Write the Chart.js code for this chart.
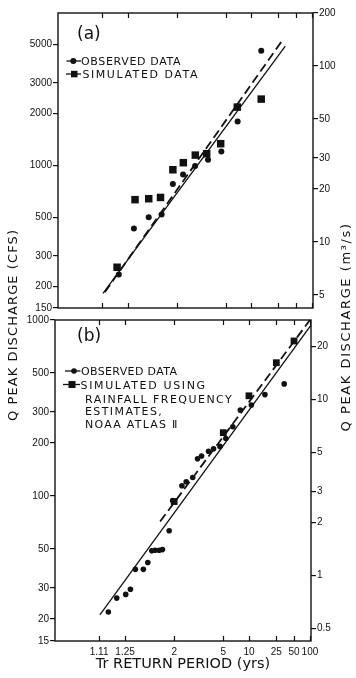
<!DOCTYPE html>
<html>
<head>
<meta charset="utf-8">
<script src="https://cdn.jsdelivr.net/npm/chart.js@4.4.1/dist/chart.umd.min.js"></script>
<style>
  html, body { margin: 0; padding: 0; background: #fff; }
  #wrap { position: relative; width: 356px; height: 678px; overflow: hidden; font-family: "DejaVu Sans", sans-serif; color: #111; }
  canvas { position: absolute; left: 0; }
  #chartA { top: 0; }
  #chartB { top: 306px; }
  .t { position: absolute; line-height: 1; white-space: nowrap; transform: translateY(-50%); font-size: 11px; }
  .panel { font-size: 17px; }
  .vt { position: absolute; line-height: 1; white-space: nowrap; font-size: 13px; transform: translate(-50%, -50%) rotate(-90deg); }
  #icons { position: absolute; left: 0; top: 0; pointer-events: none; }
</style>
</head>
<body>
<div id="wrap">
  <canvas id="chartA" width="356" height="318"></canvas>
  <canvas id="chartB" width="356" height="372"></canvas>

  <!-- panel labels + legends -->
  <div class="t panel" style="left:77px; top:33px;">(a)</div>
  <div class="t" style="left:81px; top:61px; letter-spacing:0.65px;">OBSERVED DATA</div>
  <div class="t" style="left:82.5px; top:74px; letter-spacing:1.55px;">SIMULATED DATA</div>

  <div class="t panel" style="left:77px; top:335px;">(b)</div>
  <div class="t" style="left:81px; top:371px; letter-spacing:0.35px;">OBSERVED DATA</div>
  <div class="t" style="left:80.5px; top:384.5px; letter-spacing:1.65px;">SIMULATED USING</div>
  <div class="t" style="left:85px; top:398.5px; letter-spacing:1.47px;">RAINFALL FREQUENCY</div>
  <div class="t" style="left:85px; top:411px; letter-spacing:1.4px;">ESTIMATES,</div>
  <div class="t" style="left:85px; top:423.5px; letter-spacing:1.25px;">NOAA ATLAS Ⅱ</div>

  <svg id="icons" width="356" height="678">
    <g stroke="#111" stroke-width="1.3" fill="#111">
      <line x1="66.5" y1="61" x2="81" y2="61"/><circle cx="73.3" cy="61" r="3" stroke="none"/>
      <line x1="66" y1="74" x2="81" y2="74"/><rect x="71" y="70.8" width="6.5" height="6.5" stroke="none"/>
      <line x1="65" y1="371" x2="80.5" y2="371"/><circle cx="74" cy="371" r="2.8" stroke="none"/>
      <line x1="63" y1="384.5" x2="80" y2="384.5"/><rect x="68.5" y="381" width="7" height="7" stroke="none"/>
    </g>
  </svg>

  <!-- shared axis titles -->
  <div class="vt" style="left:11.5px; top:324.5px; letter-spacing:1.1px;">Q PEAK DISCHARGE (CFS)</div>
  <div class="vt" style="left:345px; top:327px; letter-spacing:1.6px;">Q PEAK DISCHARGE (m³/s)</div>
</div>

<script>
// --- Data: return period axis ---
const periodTicks = [1.11, 1.25, 2, 5, 10, 25, 50, 100];
const periodLabels = ['1.11', '1.25', '2', '5', '10', '25', '50', '100'];

// --- Data: panel (a) ---
const cfsTicksA = [150, 200, 300, 500, 1000, 2000, 3000, 5000];
const cmsTicksA = [5, 10, 20, 30, 50, 100, 200];
const obsPeriodA = [1.19, 1.30, 1.46, 1.66, 1.90, 2.19, 2.66, 3.39, 4.52, 6.79, 13.7];
const obsFlowA = [234, 432, 502, 521, 780, 887, 991, 1079, 1205, 1796, 4600];
const simPeriodA = [1.18, 1.31, 1.46, 1.64, 1.90, 2.20, 2.67, 3.30, 4.45, 6.73, 13.7];
const simFlowA = [258, 634, 642, 653, 944, 1037, 1147, 1169, 1335, 2173, 2417];
const obsFitPeriodA = [1.114, 32.4];
const obsFitFlowA = [182, 4890];
const simFitPeriodA = [1.121, 27.8];
const simFitFlowA = [185, 5180];

// --- Data: panel (b) ---
const cfsTicksB = [15, 20, 30, 50, 100, 200, 300, 500, 1000];
const cmsTicksB = [0.5, 1, 2, 3, 5, 10, 20];
const obsPeriodB = [1.149, 1.194, 1.255, 1.293, 1.339, 1.426, 1.483, 1.540, 1.592, 1.662, 1.725, 1.872, 1.960,
                    2.236, 2.391, 2.665, 2.902, 3.130, 3.598, 4.003, 4.626, 5.316, 6.349, 7.788, 10.76, 16.67, 33.7];
const obsFlowB = [21.9, 26.3, 27.6, 29.5, 38.3, 38.3, 41.9, 48.8, 49.2, 49.2, 49.6, 63.5, 94.3,
                  114.3, 120.4, 127.5, 162.7, 168.7, 179.4, 185.7, 191.3, 212.3, 247.2, 307.4, 328.8, 376.8, 433.5];
const simPeriodB = [2, 5, 10, 25, 50];
const simFlowB = [93, 229, 371, 572, 760];
const obsFitPeriodB = [1.113, 105];
const obsFitFlowB = [21.1, 934];
const simFitPeriodB = [1.68, 100];
const simFitFlowB = [71.6, 1000];

const CFS_PER_CMS = 35.315;
const ink = '#111';

// normal probability helpers for the return-period axis
function probit(p) {
  const a = [-39.69683028665376, 220.9460984245205, -275.9285104469687, 138.3577518672690, -30.66479806614716, 2.506628277459239];
  const b = [-54.47609879822406, 161.5858368580409, -155.6989798598866, 66.80131188771972, -13.28068155288572];
  const c = [-0.007784894002430293, -0.3223964580411365, -2.400758277161838, -2.549732539343734, 4.374664141464968, 2.938163982698783];
  const d = [0.007784695709041462, 0.3224671290700398, 2.445134137142996, 3.754408661907416];
  const lo = 0.02425;
  let q, r;
  if (p < lo) {
    q = Math.sqrt(-2 * Math.log(p));
    return (((((c[0]*q+c[1])*q+c[2])*q+c[3])*q+c[4])*q+c[5]) / ((((d[0]*q+d[1])*q+d[2])*q+d[3])*q+1);
  }
  if (p > 1 - lo) {
    q = Math.sqrt(-2 * Math.log(1 - p));
    return -(((((c[0]*q+c[1])*q+c[2])*q+c[3])*q+c[4])*q+c[5]) / ((((d[0]*q+d[1])*q+d[2])*q+d[3])*q+1);
  }
  q = p - 0.5; r = q * q;
  return (((((a[0]*r+a[1])*r+a[2])*r+a[3])*r+a[4])*r+a[5])*q / (((((b[0]*r+b[1])*r+b[2])*r+b[3])*r+b[4])*r+1);
}
function normCdf(z) {
  const x = Math.abs(z) / Math.SQRT2;
  const t = 1 / (1 + 0.3275911 * x);
  const erf = 1 - (((((1.061405429*t - 1.453152027)*t) + 1.421413741)*t - 0.284496736)*t + 0.254829592) * t * Math.exp(-x * x);
  return 0.5 * (1 + (z < 0 ? -erf : erf));
}
const zOf = T => probit(1 - 1 / T);

// Custom scale: return period plotted on normal probability paper
class ReturnPeriodScale extends Chart.Scale {
  static id = 'returnPeriod';
  static defaults = {};
  determineDataLimits() {
    this.min = this.options.min;
    this.max = this.options.max;
  }
  buildTicks() {
    return periodTicks.map(v => ({ value: v }));
  }
  configure() {
    super.configure();
    this._zMin = zOf(this.min);
    this._zRange = zOf(this.max) - this._zMin;
  }
  getPixelForValue(value) {
    return this.getPixelForDecimal((zOf(value) - this._zMin) / this._zRange);
  }
  getValueForPixel(pixel) {
    const z = this._zMin + this.getDecimalForPixel(pixel) * this._zRange;
    return 1 / (1 - normCdf(z));
  }
}
Chart.register(ReturnPeriodScale);

const pts = (xs, ys) => xs.map((x, i) => ({ x, y: ys[i] }));

// box around the plot + inward ticks on top and bottom
const framePlugin = {
  id: 'frame',
  afterDraw(chart) {
    const { ctx, chartArea: a } = chart;
    const x = chart.scales.x;
    ctx.save();
    ctx.strokeStyle = ink;
    ctx.lineWidth = 1.4;
    ctx.strokeRect(a.left, a.top, a.right - a.left, a.bottom - a.top);
    ctx.lineWidth = 1.2;
    periodTicks.forEach(t => {
      const px = Math.round(x.getPixelForValue(t)) + 0.5;
      ctx.beginPath();
      ctx.moveTo(px, a.top); ctx.lineTo(px, a.top + 5);
      ctx.moveTo(px, a.bottom); ctx.lineTo(px, a.bottom - 5);
      ctx.stroke();
    });
    ctx.restore();
  }
};

const tickFont = { family: 'Liberation Sans', size: 10 };

function flowAxis(position, min, max, tickValues, width) {
  return {
    type: 'logarithmic',
    position, min, max,
    bounds: 'data',
    afterBuildTicks: s => { s.ticks = tickValues.map(v => ({ value: v })); },
    afterFit: s => { s.width = width; },
    grid: { drawOnChartArea: false, drawTicks: true, tickLength: 5, color: ink, lineWidth: 1.2 },
    border: { display: false },
    ticks: { autoSkip: false, padding: 1, color: ink, font: tickFont, callback: v => String(v) }
  };
}

function datasets(obsT, obsQ, simT, simQ, oFitT, oFitQ, sFitT, sFitQ, simRadius, obsRadius) {
  return [
    { label: 'observed fit', data: pts(oFitT, oFitQ), showLine: true, borderColor: ink, borderWidth: 1.3, pointRadius: 0, fill: false },
    { label: 'simulated fit', data: pts(sFitT, sFitQ), showLine: true, borderColor: ink, borderWidth: 1.8, borderDash: [9, 4.5], pointRadius: 0, fill: false },
    { label: 'OBSERVED DATA', data: pts(obsT, obsQ), pointStyle: 'circle', pointRadius: obsRadius, backgroundColor: ink, borderWidth: 0 },
    { label: 'SIMULATED DATA', data: pts(simT, simQ), pointStyle: 'rect', pointRadius: simRadius, backgroundColor: ink, borderWidth: 0 }
  ];
}

const common = {
  responsive: false,
  animation: false,
  devicePixelRatio: 1,
  events: [],
  plugins: { legend: { display: false }, tooltip: { enabled: false } }
};

// Panel (a)
new Chart(document.getElementById('chartA'), {
  type: 'scatter',
  data: { datasets: datasets(obsPeriodA, obsFlowA, simPeriodA, simFlowA, obsFitPeriodA, obsFitFlowA, simFitPeriodA, simFitFlowA, 5.3, 3) },
  options: {
    ...common,
    layout: { padding: { top: 13, bottom: 10, left: 0, right: 0 } },
    scales: {
      x: { type: 'returnPeriod', display: false, min: 1.021, max: 105 },
      y: flowAxis('left', 150, 7600, cfsTicksA, 58),
      y2: flowAxis('right', 4.22, 200, cmsTicksA, 43)
    }
  },
  plugins: [framePlugin]
});

// Panel (b)
new Chart(document.getElementById('chartB'), {
  type: 'scatter',
  data: { datasets: datasets(obsPeriodB, obsFlowB, simPeriodB, simFlowB, obsFitPeriodB, obsFitFlowB, simFitPeriodB, simFitFlowB, 4.8, 2.8) },
  options: {
    ...common,
    layout: { padding: { top: 14, bottom: 0, left: 0, right: 0 } },
    scales: {
      x: {
        type: 'returnPeriod', position: 'bottom', min: 1.021, max: 105,
        afterFit: s => { s.height = 37; },
        grid: { display: false, drawTicks: false },
        border: { display: false },
        ticks: { autoSkip: false, maxRotation: 0, padding: 5, color: ink, font: tickFont, callback: (v, i) => periodLabels[i] },
        title: { display: true, text: 'Tr RETURN PERIOD (yrs)', color: ink, font: { family: 'DejaVu Sans', size: 14.5 }, padding: { top: 0, bottom: 4.6 } }
      },
      y: flowAxis('left', 15, 1000, cfsTicksB, 55),
      y2: flowAxis('right', 15 / CFS_PER_CMS, 1000 / CFS_PER_CMS, cmsTicksB, 45)
    }
  },
  plugins: [framePlugin]
});
</script>
</body>
</html>
